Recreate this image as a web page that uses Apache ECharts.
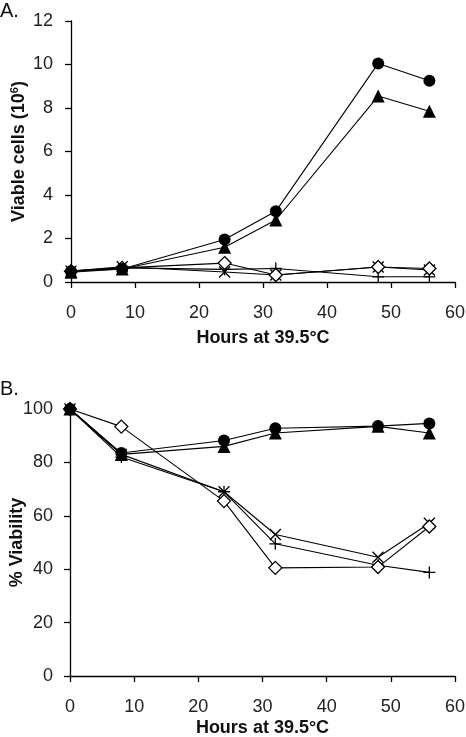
<!DOCTYPE html>
<html><head><meta charset="utf-8">
<script src="https://cdn.jsdelivr.net/npm/echarts@6/dist/echarts.min.js"></script>
<style>html,body{margin:0;padding:0;background:#fff}#c{width:466px;height:737px}</style>
</head><body><div id="c"></div>
<script>
const hours = [0, 8, 24, 32, 48, 56];
const xTicks = [0, 10, 20, 30, 40, 50, 60];
// Panel A: viable cells (10^6)
const cellsCircle   = [0.5, 0.6, 1.95, 3.25, 10.05, 9.25];
const cellsTriangle = [0.45, 0.6, 1.6, 2.85, 8.55, 7.85];
const cellsDiamond  = [0.5, 0.65, 0.87, 0.32, 0.69, 0.62];
const cellsCross    = [0.5, 0.7, 0.46, 0.32, 0.69, 0.55];
const cellsPlus     = [0.5, 0.65, 0.58, 0.62, 0.24, 0.24];
// Panel B: % viability
const viaCircle   = [100, 83.5, 88.2, 92.8, 93.6, 94.6];
const viaTriangle = [100, 83, 86, 91, 93.5, 91];
const viaDiamond  = [100, 93.4, 65.5, 40.5, 40.8, 56];
const viaCross    = [100, 83, 69, 53, 44.5, 57.2];
const viaPlus     = [100, 82, 69, 49.5, 41.5, 38.8];

const pts = v => hours.map((h, i) => [h, v[i]]);
const CROSS = 'path://M0,0L10,10M10,0L0,10';
const PLUS = 'path://M5,0L5,10M0,5L10,5';
const font = 'Liberation Sans, Arial, sans-serif';
const lbl = {color:'#222', fontSize:18, fontFamily:font};
const ttl = {fontSize:18, fontWeight:'bold', color:'#111', fontFamily:font};

function mk(name, data, sym, size, gi, fill) {
  return {
    type:'line', name, data: pts(data), xAxisIndex:gi, yAxisIndex:gi,
    symbol: sym, symbolSize: size, showSymbol:true,
    lineStyle:{color:'#000', width:1.1},
    itemStyle:{color: fill, borderColor:'#000', borderWidth: (sym==='circle'||sym==='triangle')?0:1.3},
    animation:false, z: 3
  };
}
function xa(gi, gap){
  return {gridIndex:gi, type:'value', min:0, max:60, interval:10,
    axisLine:{lineStyle:{color:'#000', width:1.3}},
    axisTick:{inside:false, length:6, lineStyle:{color:'#000', width:1.3}},
    axisLabel:Object.assign({margin:22}, lbl), splitLine:{show:false},
    name:'Hours at 39.5°C', nameLocation:'middle', nameGap:gap, nameMoveOverlap:false,
    nameTextStyle:ttl};
}
const chart = echarts.init(document.getElementById('c'));
chart.setOption({
  backgroundColor:'#fff',
  animation:false,
  grid:[{left:71, top:21, width:384, height:261, containLabel:false, outerBoundsMode:'none'},
        {left:70, top:409, width:385, height:267, containLabel:false, outerBoundsMode:'none'}],
  xAxis:[xa(0, 47), xa(1, 43)],
  yAxis:[
    {gridIndex:0, type:'value', min:0, max:12, interval:2,
     axisLine:{show:true, lineStyle:{color:'#000', width:1.3}},
     axisTick:{show:true, length:6, lineStyle:{color:'#000', width:1.3}},
     axisLabel:Object.assign({margin:18}, lbl), splitLine:{show:false},
     name:'{a|Viable cells (10}{s|6}{a|)}', nameLocation:'middle', nameGap:42, nameMoveOverlap:false,
     nameTextStyle:{rich:{a:ttl,
                          s:{fontSize:11, fontWeight:'bold', color:'#111', fontFamily:font, verticalAlign:'top', padding:[0,0,9,0]}}}},
    {gridIndex:1, type:'value', min:0, max:100, interval:20,
     axisLine:{show:true, lineStyle:{color:'#000', width:1.3}},
     axisTick:{show:true, length:6, lineStyle:{color:'#000', width:1.3}},
     axisLabel:Object.assign({margin:17}, lbl), splitLine:{show:false},
     name:'% Viability', nameLocation:'middle', nameGap:44, nameMoveOverlap:false,
     nameTextStyle:ttl}
  ],
  graphic:[
    {type:'text', left:0, top:1, style:{text:'A.', fontSize:20, fill:'#111', fontFamily:font}},
    {type:'text', left:0, top:379, style:{text:'B.', fontSize:20, fill:'#111', fontFamily:font}}
  ],
  series:[
    mk('plus', cellsPlus, PLUS, 12, 0, '#000'),
    mk('cross', cellsCross, CROSS, 11, 0, '#000'),
    mk('diamond', cellsDiamond, 'diamond', 13, 0, '#fff'),
    mk('triangle', cellsTriangle, 'triangle', 13, 0, '#000'),
    mk('circle', cellsCircle, 'circle', 12, 0, '#000'),
    mk('plus', viaPlus, PLUS, 12, 1, '#000'),
    mk('cross', viaCross, CROSS, 11, 1, '#000'),
    mk('diamond', viaDiamond, 'diamond', 13, 1, '#fff'),
    mk('triangle', viaTriangle, 'triangle', 13, 1, '#000'),
    mk('circle', viaCircle, 'circle', 12, 1, '#000')
  ]
});
</script></body></html>
